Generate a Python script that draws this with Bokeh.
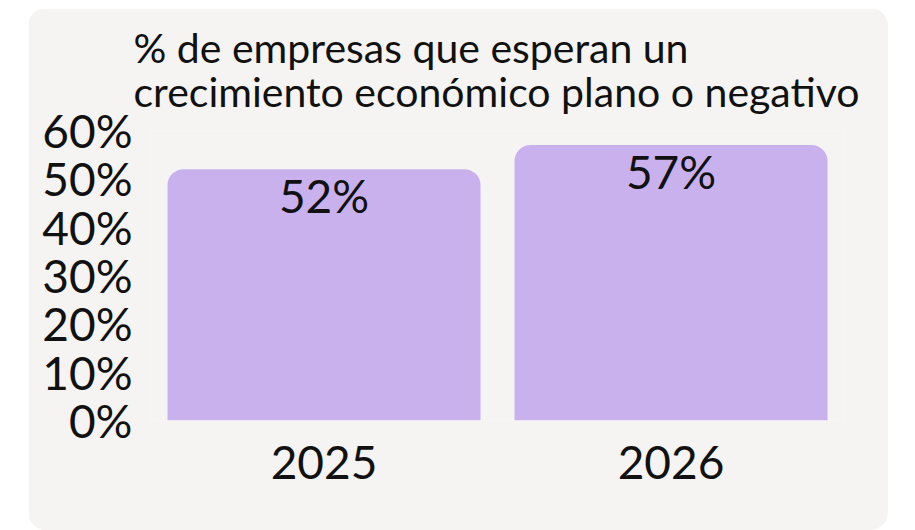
from bokeh.plotting import figure
from bokeh.models import ColumnDataSource, LabelSet, Title, FactorRange, Range1d, Spacer, InlineStyleSheet, NumeralTickFormatter, FixedTicker
from bokeh.layouts import row, column
from bokeh.embed import file_html
from bokeh.resources import INLINE
from bokeh.core.properties import value

years = ["2025", "2026"]
shares = [0.52, 0.57]
share_labels = ["52%", "57%"]
tick_values = [0, 0.1, 0.2, 0.3, 0.4, 0.5, 0.6]
title_lines = ["% de empresas que esperan un", "crecimiento económico plano o negativo"]

FONT = "Lato"
BG = "#F5F4F2"
BAR = "#C9B1EE"
INK = "#111111"

src = ColumnDataSource(dict(year=years, share=shares, label=share_labels))

p = figure(x_range=FactorRange(*years), y_range=Range1d(0, 0.6),
           width=860, height=522, output_backend="svg", toolbar_location=None,
           min_border_left=122, min_border_right=44, min_border_top=122, min_border_bottom=110)
p.background_fill_color = BG
p.border_fill_color = BG
p.outline_line_color = None
p.grid.visible = False

p.vbar(x="year", top="share", width=0.902, source=src, color=BAR, line_color=None,
       border_radius=(16, 16, 0, 0))

p.add_layout(LabelSet(x="year", y="share", text="label", source=src, y_offset=-44,
                      text_align="center", text_baseline="alphabetic",
                      text_font=value(FONT), text_font_size="46px", text_color=INK))

p.add_layout(Title(text="\n".join(title_lines), align="left", offset=-17, standoff=26,
                   vertical_align="top",
                   text_font=FONT, text_font_size="41px", text_color=INK,
                   text_line_height=0.9, text_font_style="normal"), "above")

p.yaxis.ticker = FixedTicker(ticks=tick_values)
p.yaxis.formatter = NumeralTickFormatter(format="0%")
for ax in (p.xaxis, p.yaxis):
    ax.axis_line_color = None
    ax.major_tick_line_color = None
    ax.minor_tick_line_color = None
    ax.major_tick_out = 0
    ax.major_tick_in = 0
    ax.major_label_text_font = FONT
    ax.major_label_text_font_size = "46px"
    ax.major_label_text_color = INK
p.yaxis.major_label_standoff = 18
p.xaxis.major_label_standoff = 25

p.stylesheets = [InlineStyleSheet(css=":host { border-radius: 18px; overflow: hidden; }")]

layout = column(Spacer(width=10, height=8), row(Spacer(width=28, height=522), p))
open("out.html", "w").write(file_html(layout, INLINE))
